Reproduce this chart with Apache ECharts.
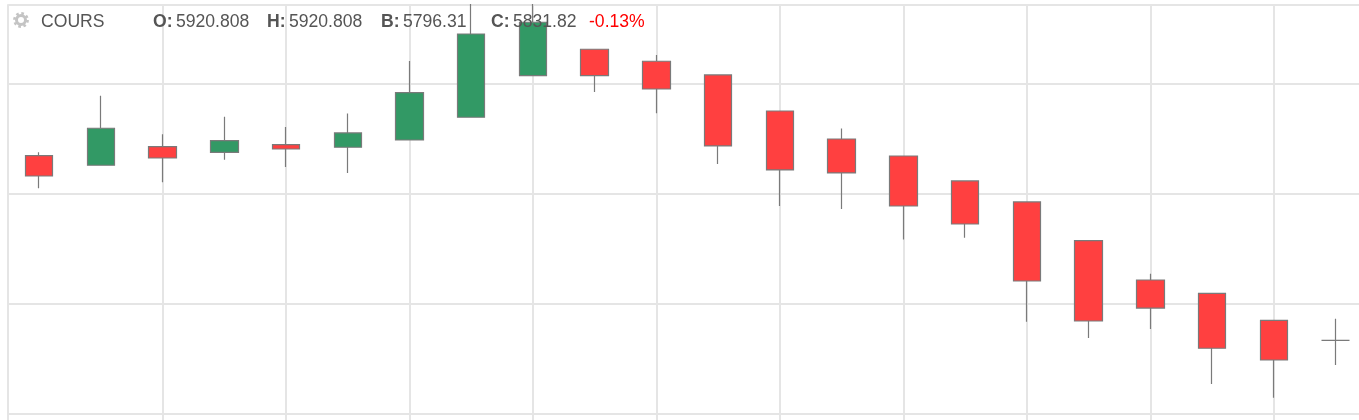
<!DOCTYPE html>
<html><head><meta charset="utf-8">
<script src="https://cdn.jsdelivr.net/npm/echarts@6/dist/echarts.min.js"></script>
<style>html,body{margin:0;padding:0;background:#fff;overflow:hidden;width:1359px;height:420px}#c{width:1370px;height:530px}</style>
</head><body><div id="c"></div>
<script>
var categories = ['1','2','3','4','5','6','7','8','9','10','11','12','13','14','15','16','17','18','19','20','21','22'];
var opens  = [5834.7,5826.0,5842.9,5837.8,5844.7,5842.4,5849.0,5869.7,5907.6,5931.6,5920.7,5908.2,5875.4,5849.9,5834.4,5811.7,5792.6,5757.3,5721.5,5709.4,5684.8,5666.6];
var closes = [5816.2,5859.7,5832.6,5848.4,5840.8,5855.4,5892.1,5945.5,5956.2,5907.6,5895.4,5843.6,5821.7,5819.0,5788.9,5772.5,5720.6,5684.2,5696.0,5659.4,5648.7,5666.6];
var lows   = [5805.0,5826.0,5810.5,5831.1,5824.4,5819.0,5849.0,5869.7,5907.6,5892.7,5873.3,5827.2,5788.9,5786.2,5758.4,5760.1,5683.6,5668.7,5676.9,5626.9,5614.4,5644.1];
var highs  = [5837.8,5889.3,5854.2,5870.2,5860.8,5873.0,5920.9,5972.8,5972.8,5931.6,5926.4,5908.2,5875.4,5859.5,5834.4,5811.7,5792.6,5757.3,5727.3,5709.4,5684.8,5686.3];
var seriesName = 'COURS';
var headerItems = [['O:','5920.808',153],['H:','5920.808',267],['B:','5796.31',381],['C:','5831.82',491]];
var changeText = '-0.13%';

var ohlc = categories.map(function(_, i){ return [opens[i], closes[i], lows[i], highs[i]]; });
var font = '"Liberation Sans", Arial, sans-serif';
var size = '17.6px ';

var graphics = [
  {type:'circle', z:10, shape:{cx:21, cy:20, r:4.5}, style:{fill:'none', stroke:'#c4c4c4', lineWidth:3}},
  {type:'circle', z:10, shape:{cx:21, cy:20, r:6.6}, style:{fill:'none', stroke:'#c4c4c4', lineWidth:2.6, lineDash:[2.6,2.6]}},
  {type:'text', z:10, left:41, top:13, style:{text:seriesName, fill:'#555', font:size+font}}
];
headerItems.forEach(function(h){
  graphics.push({type:'text', z:10, left:h[2], top:13, style:{
    text:'{b|'+h[0]+'} {v|'+h[1]+'}',
    rich:{b:{fill:'#555', font:'bold '+size+font}, v:{fill:'#555', font:size+font}}
  }});
});
graphics.push({type:'text', z:10, left:589, top:13, style:{text:changeText, fill:'#f00', font:size+font}});

var chart = echarts.init(document.getElementById('c'), null, {renderer:'canvas'});
chart.setOption({
  animation:false,
  backgroundColor:'#fff',
  grid:{left:8.2, top:5, width:1358.2, height:518.3},
  xAxis:{type:'category', data:categories, boundaryGap:true,
    axisLine:{show:false}, axisTick:{show:false}, axisLabel:{show:false},
    splitLine:{show:true, alignWithLabel:true, interval:function(i){return i>0 && i%2===0;},
      lineStyle:{color:'#e5e5e5', width:2}}},
  yAxis:{type:'value', min:5500, max:5971.9, interval:100,
    axisLine:{show:true, lineStyle:{color:'#e5e5e5', width:2}}, axisTick:{show:false}, axisLabel:{show:false},
    splitLine:{show:true, lineStyle:{color:'#e5e5e5', width:2}}},
  graphic:graphics,
  series:[{type:'candlestick', name:seriesName, data:ohlc, barWidth:28, clip:false, silent:true,
    itemStyle:{color:'#329965', color0:'#ff4040', borderColor:'#7a7a7a', borderColor0:'#7a7a7a', borderColorDoji:'#7a7a7a', borderWidth:1.2}}]
});
</script></body></html>
